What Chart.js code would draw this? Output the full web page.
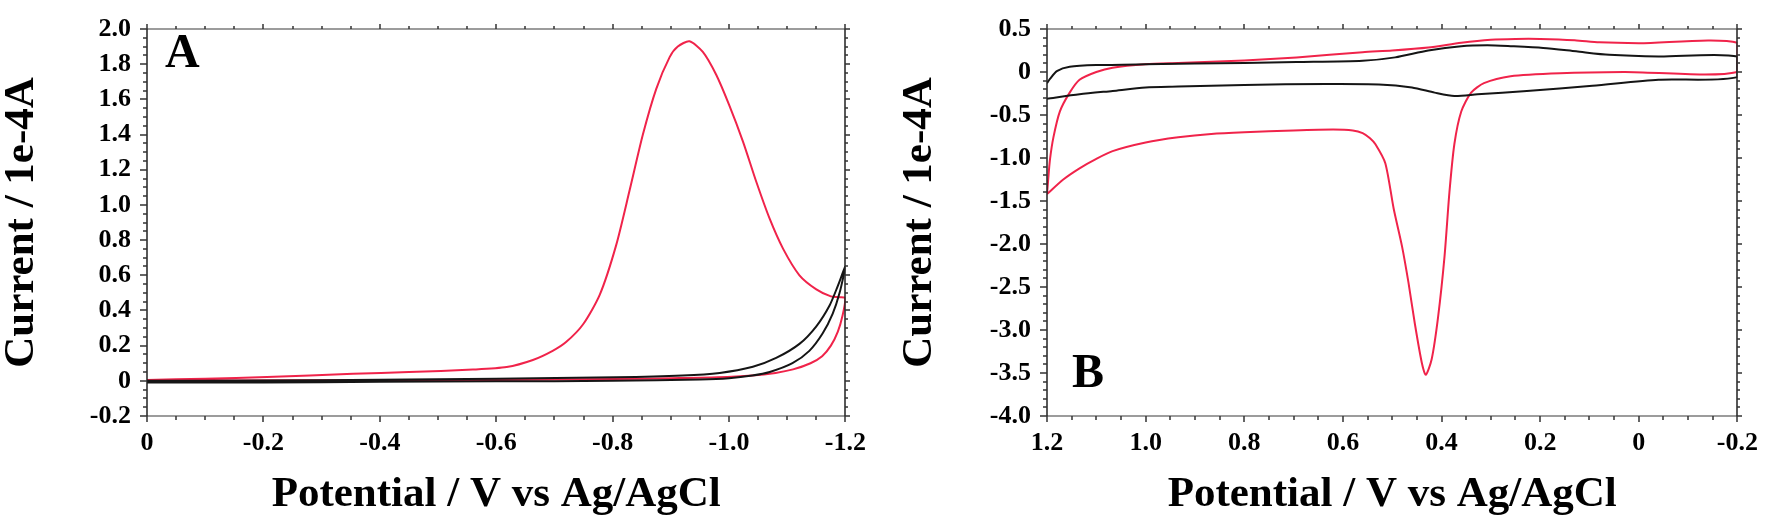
<!DOCTYPE html>
<html>
<head>
<meta charset="utf-8">
<script src="https://cdn.jsdelivr.net/npm/chart.js@4.4.1/dist/chart.umd.min.js"></script>
<style>
  html, body { margin: 0; padding: 0; background: #fff; }
  #wrap { position: relative; width: 1772px; height: 531px; overflow: hidden; }
  .pane { position: absolute; top: 0; height: 531px; }
  .letter {
    position: absolute; color: #000; line-height: 1;
    font-family: "Liberation Serif", "Times New Roman", serif;
    font-weight: bold; font-size: 48px;
  }
</style>
</head>
<body>
<div id="wrap">
  <div class="pane" style="left:0;width:880px"><canvas id="chartA"></canvas></div>
  <div class="pane" style="left:880px;width:892px"><canvas id="chartB"></canvas></div>
  <div class="letter" style="left:165px;top:27px">A</div>
  <div class="letter" style="left:1072px;top:347px">B</div>
</div>
<script>
// ─── Data (potential in V, current in 1e-4 A) ──────────────────────────────

// Panel A – red loop (forward branch to -1.2 V, then return with the big peak)
const aRedV = [0, -0.3, -0.6, -0.8, -0.9, -0.98, -1.04, -1.08, -1.11, -1.14, -1.16, -1.175, -1.187, -1.195, -1.2,
  -1.19, -1.175, -1.15, -1.121, -1.093, -1.07, -1.047, -1.024, -1.0, -0.978, -0.955, -0.932, -0.912, -0.898,
  -0.875, -0.852, -0.829, -0.806, -0.778, -0.749, -0.72, -0.697, -0.663, -0.618, -0.56, -0.45, -0.354, -0.206, -0.1, 0];
const aRedI = [0.0, 0.003, 0.005, 0.01, 0.015, 0.02, 0.03, 0.045, 0.065, 0.1, 0.14, 0.2, 0.28, 0.37, 0.47,
  0.475, 0.48, 0.52, 0.6, 0.75, 0.92, 1.13, 1.36, 1.57, 1.74, 1.87, 1.93, 1.90, 1.84,
  1.66, 1.40, 1.08, 0.77, 0.49, 0.32, 0.22, 0.17, 0.118, 0.078, 0.064, 0.05, 0.04, 0.022, 0.012, 0.005];

// Panel A – black loop
const aBlackV = [0, -0.2, -0.4, -0.6, -0.8, -0.95, -1.0, -1.04, -1.07, -1.109, -1.138, -1.161, -1.178, -1.19, -1.2,
  -1.187, -1.173, -1.15, -1.121, -1.081, -1.041, -0.984, -0.92, -0.806, -0.6, -0.4, -0.2, 0];
const aBlackI = [-0.01, -0.01, -0.005, -0.003, 0.0, 0.008, 0.015, 0.03, 0.05, 0.1, 0.17, 0.27, 0.38, 0.5, 0.65,
  0.54, 0.43, 0.31, 0.21, 0.13, 0.08, 0.045, 0.03, 0.02, 0.012, 0.006, 0.002, 0.0];

// Panel B – red loop (cathodic branch with the deep peak, then anodic return)
const bRedV = [1.2, 1.167, 1.134, 1.1, 1.067, 1.0, 0.934, 0.867, 0.8, 0.7, 0.62, 0.58, 0.56, 0.545, 0.534, 0.514,
  0.497, 0.48, 0.467, 0.454, 0.44, 0.432, 0.42, 0.407, 0.394, 0.384, 0.374, 0.36, 0.34, 0.314, 0.26, 0.16, 0.03, -0.2,
  -0.2, 0.0, 0.08, 0.13, 0.2, 0.25, 0.3, 0.36, 0.427, 0.5, 0.56, 0.694, 0.8, 0.934, 1.0, 1.067, 1.1, 1.134, 1.154,
  1.174, 1.187, 1.194, 1.198, 1.2];
const bRedI = [-1.42, -1.25, -1.12, -1.01, -0.92, -0.82, -0.76, -0.72, -0.70, -0.68, -0.67, -0.68, -0.71, -0.77, -0.84, -1.06,
  -1.59, -2.03, -2.45, -2.93, -3.38, -3.52, -3.34, -2.85, -2.15, -1.40, -0.84, -0.46, -0.24, -0.13, -0.05, -0.015, 0.0, 0.0,
  0.34, 0.335, 0.345, 0.37, 0.385, 0.385, 0.375, 0.34, 0.285, 0.25, 0.23, 0.17, 0.135, 0.105, 0.09, 0.05, 0.0, -0.09, -0.24,
  -0.46, -0.76, -1.02, -1.28, -1.42];

// Panel B – black loop
const bBlackV = [1.2, 1.134, 1.067, 1.0, 0.934, 0.8, 0.634, 0.527, 0.46, 0.414, 0.374, 0.327, 0.227, 0.094, -0.04, -0.2,
  -0.2, -0.04, 0.06, 0.127, 0.194, 0.26, 0.307, 0.36, 0.427, 0.494, 0.56, 0.694, 0.8, 1.0, 1.1, 1.154, 1.18, 1.194, 1.2];
const bBlackI = [-0.31, -0.26, -0.22, -0.18, -0.17, -0.15, -0.14, -0.145, -0.18, -0.24, -0.28, -0.26, -0.22, -0.16, -0.09, -0.06,
  0.18, 0.18, 0.20, 0.24, 0.28, 0.30, 0.31, 0.30, 0.25, 0.17, 0.13, 0.115, 0.105, 0.09, 0.08, 0.06, 0.01, -0.08, -0.13];

// Tick labels
const aXTicks = [0, -0.2, -0.4, -0.6, -0.8, -1.0, -1.2];
const aYTicks = [2.0, 1.8, 1.6, 1.4, 1.2, 1.0, 0.8, 0.6, 0.4, 0.2, 0, -0.2];
const bXTicks = [1.2, 1.0, 0.8, 0.6, 0.4, 0.2, 0, -0.2];
const bYTicks = [0.5, 0, -0.5, -1.0, -1.5, -2.0, -2.5, -3.0, -3.5, -4.0];

const X_TITLE = 'Potential / V vs Ag/AgCl';
const Y_TITLE = 'Current / 1e-4A';

// ─── Helpers ────────────────────────────────────────────────────────────────

const RED = '#f0234a';
const BLACK = '#151515';
const SERIF = '"Liberation Serif", "Times New Roman", serif';
const tickFont = { family: SERIF, weight: 'bold', size: 26, lineHeight: 1 };
const titleFont = { family: SERIF, weight: 'bold', size: 43, lineHeight: 1 };

const pts = (xs, ys) => xs.map((x, i) => ({ x, y: ys[i] }));
const fmtTick = v => Math.abs(v) < 1e-9 ? '0' : v.toFixed(1);

function line(xs, ys, color) {
  return {
    data: pts(xs, ys), showLine: true, borderColor: color, borderWidth: 2,
    pointRadius: 0, tension: 0.25, fill: false,
  };
}

function xAxis(min, max, vals) {
  return {
    type: 'linear', min, max, reverse: true,
    afterBuildTicks: s => { s.ticks = vals.map(v => ({ value: v })); },
    afterFit: s => { s.height = 115; },
    grid: { display: false, drawTicks: false },
    border: { display: false },
    ticks: { font: tickFont, color: '#000', padding: 14, autoSkip: false, maxRotation: 0, callback: v => fmtTick(v) },
    title: { display: true, text: X_TITLE, font: titleFont, color: '#000', padding: { top: 0, bottom: 15 } },
  };
}

function yAxis(min, max, vals, width, titlePad) {
  return {
    type: 'linear', min, max,
    afterBuildTicks: s => { s.ticks = vals.map(v => ({ value: v })); },
    afterFit: s => { s.width = width; },
    grid: { display: false, drawTicks: false },
    border: { display: false },
    ticks: { font: tickFont, color: '#000', padding: 16, autoSkip: false, callback: v => fmtTick(v) },
    title: { display: true, text: Y_TITLE, font: titleFont, color: '#000', padding: { top: titlePad, bottom: 0 } },
  };
}

// Box round the plot with major/minor ticks on all four sides
const framePlugin = {
  id: 'frame',
  afterDatasetsDraw(chart, args, opts) {
    const { ctx, chartArea: a, scales: { x, y } } = chart;
    const L = Math.round(a.left), R = Math.round(a.right), T = Math.round(a.top), B = Math.round(a.bottom);
    ctx.save();
    ctx.lineWidth = 1.5;

    ctx.strokeStyle = '#7c7c7c';
    ctx.beginPath();
    ctx.moveTo(L, T); ctx.lineTo(R, T);
    ctx.moveTo(L, B); ctx.lineTo(R, B);
    ctx.stroke();
    ctx.strokeStyle = '#222';
    ctx.beginPath();
    ctx.moveTo(L, T); ctx.lineTo(L, B);
    ctx.moveTo(R, T); ctx.lineTo(R, B);
    ctx.stroke();

    const each = (scale, minor, major, fn) => {
      const n = Math.round((scale.max - scale.min) / minor);
      for (let i = 0; i <= n; i++) {
        const v = scale.min + i * minor;
        const r = v / major;
        fn(Math.round(scale.getPixelForValue(v)), Math.abs(r - Math.round(r)) < 1e-6);
      }
    };
    ctx.strokeStyle = '#333';
    ctx.lineWidth = 1.5;
    ctx.beginPath();
    each(x, opts.xMinor, opts.xMajor, (p, maj) => {
      ctx.moveTo(p, B); ctx.lineTo(p, B + (maj ? 6 : 4));
      ctx.moveTo(p, T); ctx.lineTo(p, T - (maj ? 5 : 3));
    });
    each(y, opts.yMinor, opts.yMajor, (p, maj) => {
      ctx.moveTo(L, p); ctx.lineTo(L - (maj ? 7 : 4), p);
      ctx.moveTo(R, p); ctx.lineTo(R + (maj ? 5 : 3), p);
    });
    ctx.stroke();
    ctx.restore();
  },
};

function makeChart(id, datasets, scales, padding, frame) {
  return new Chart(document.getElementById(id), {
    type: 'scatter',
    data: { datasets },
    options: {
      responsive: true,
      maintainAspectRatio: false,
      animation: false,
      layout: { padding },
      plugins: { legend: { display: false }, tooltip: { enabled: false }, frame },
      scales,
    },
    plugins: [framePlugin],
  });
}

// ─── Charts ─────────────────────────────────────────────────────────────────

makeChart('chartA',
  [line(aBlackV, aBlackI, BLACK), line(aRedV, aRedI, RED)],
  { x: xAxis(-1.2, 0, aXTicks), y: yAxis(-0.2, 2.0, aYTicks, 147, 0) },
  { top: 14, right: 34, bottom: 0, left: 0 },
  { xMinor: 0.05, xMajor: 0.2, yMinor: 0.05, yMajor: 0.2 });

makeChart('chartB',
  [line(bBlackV, bBlackI, BLACK), line(bRedV, bRedI, RED)],
  { x: xAxis(-0.2, 1.2, bXTicks), y: yAxis(-4.0, 0.5, bYTicks, 167, 18) },
  { top: 14, right: 25, bottom: 0, left: 0 },
  { xMinor: 0.05, xMajor: 0.2, yMinor: 0.1, yMajor: 0.5 });
</script>
</body>
</html>
